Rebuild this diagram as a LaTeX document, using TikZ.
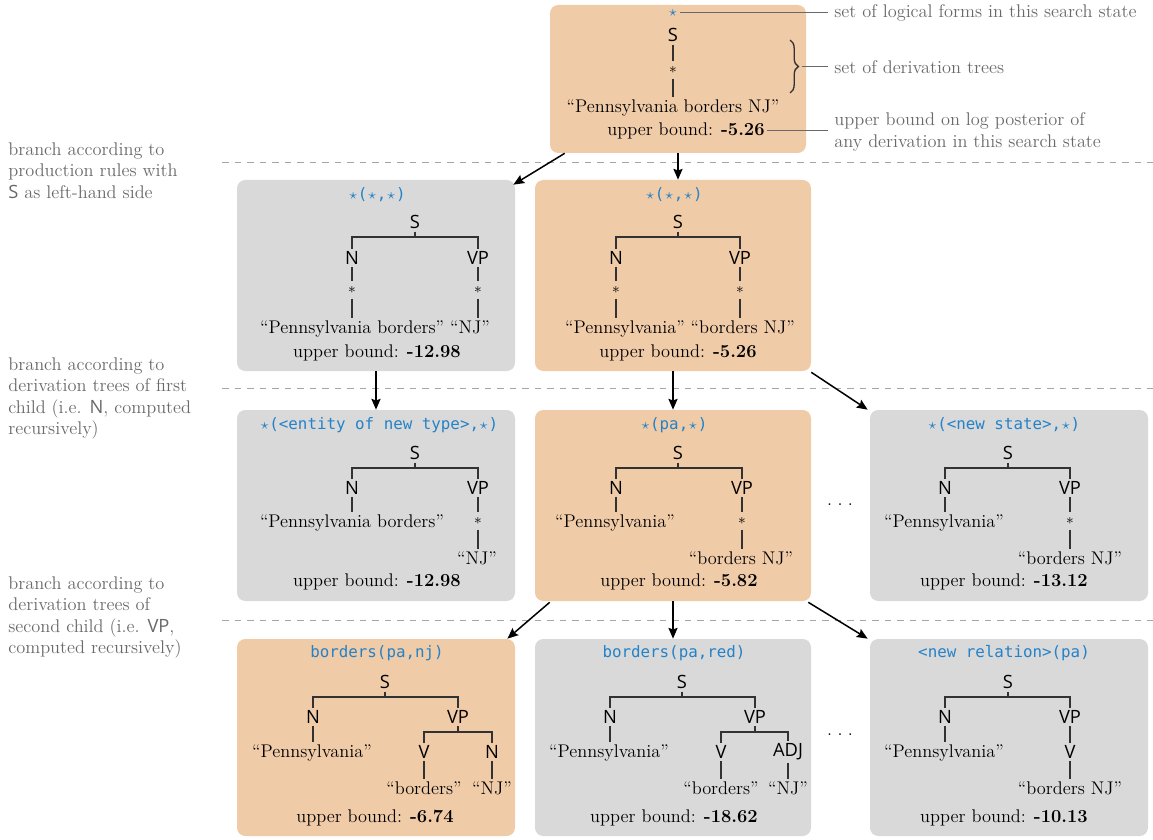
\documentclass[tikz,border=0pt]{standalone}
\usepackage{fontspec}
\newfontfamily\catf{Open Sans}
\setmonofont{DejaVu Sans Mono}
\usetikzlibrary{fit,calc,arrows.meta,decorations.pathreplacing}
\definecolor{obg}{RGB}{240,203,168}
\definecolor{gbg}{RGB}{217,217,217}
\definecolor{lfblue}{RGB}{35,130,200}
\definecolor{treec}{RGB}{50,50,50}
\definecolor{annc}{RGB}{105,105,105}
\definecolor{dashc}{RGB}{165,165,165}
\newcommand{\st}{\makebox[0.6em]{$\star$}}
\newcommand{\astr}{{\fontsize{9.5}{9.5}\selectfont$\ast$}}
\newcommand{\cs}[1]{{\catf #1}}
\newcommand{\spdots}{.\hspace{3.2pt}.\hspace{3.2pt}.}
\begin{document}
\begin{tikzpicture}[x=0.6pt,y=-0.6pt,
  every node/.style={font=\fontsize{11}{13}\selectfont},
  obox/.style={fill=obg, rounded corners=5pt, inner sep=0pt},
  gbox/.style={fill=gbg, rounded corners=5pt, inner sep=0pt},
  cat/.style={font=\catf\fontsize{11}{13}\selectfont, inner sep=1.5pt},
  txt/.style={inner sep=1.5pt},
  ttl/.style={font=\ttfamily\fontsize{9.5}{11}\selectfont, text=lfblue, inner sep=1pt},
  ast/.style={inner sep=0pt, minimum height=10pt},
  tl/.style={draw=treec, line width=0.75pt},
  arr/.style={draw=black, line width=0.9pt, -{Stealth[length=6.5pt,width=5.5pt,inset=1pt]}},
  ann/.style={text=annc, inner sep=0pt, align=left, font=\fontsize{11}{12.9}\selectfont},
  al/.style={draw=annc, line width=0.6pt},
  sep/.style={draw=dashc, line width=0.6pt, dash pattern=on 4pt off 3.5pt}]
\useasboundingbox (0,0) rectangle (1153,840);

% separators
\coordinate (d1a) at (222,163); \coordinate (d1b) at (1153,163);
\coordinate (d2a) at (222,388); \coordinate (d2b) at (1153,388);
\coordinate (d3a) at (222,620); \coordinate (d3b) at (1153,620);
\draw[sep] (d1a) -- (d1b);
\draw[sep] (d2a) -- (d2b);
\draw[sep] (d3a) -- (d3b);

% left annotations
\node[ann, anchor=north west] (l1) at (8,142) {branch according to\\production rules with\\\cs{S} as left-hand side};
\node[ann, anchor=north west] (l2) at (8,357) {branch according to\\derivation trees of first\\child (i.e. \cs{N}, computed\\recursively)};
\node[ann, anchor=north west] (l3) at (8,576) {branch according to\\derivation trees of\\second child (i.e. \cs{VP},\\computed recursively)};

% ---------- top box
\node[obox, fit={(550,5)(806,153)}] (top) {};
\node[ttl] (t0) at (673,13) {\st};
\node[cat] (s0) at (673,35) {S};
\node[ast] (a0) at (673,70) {\astr};
\node[txt] (w0) at (673,108) {“Pennsylvania borders NJ”};
\node[txt] (u0) at (686,131) {upper bound: \textbf{-5.26}};
\draw[tl] (s0) -- (a0);
\draw[tl] (a0) -- (w0);

% right annotations
\node[ann, anchor=west] (n1) at (834,13) {set of logical forms in this search state};
\node[ann, anchor=west] (n2) at (834,67) {set of derivation trees};
\node[ann, anchor=west] (n3) at (834,132) {upper bound on log posterior of\\any derivation in this search state};
\draw[al] (t0.east) -- ($(n1.west)+(-6,0)$);
\coordinate (bA) at (790,40); \coordinate (bB) at (790,93);
\draw[treec, line width=0.8pt, decorate, decoration={brace, amplitude=5pt}] (bA) -- (bB);
\coordinate (btip) at (802,67);
\draw[al] (btip) -- ($(n2.west)+(-6,0)$);
\draw[al] (u0.east) -- ($(u0.east -| n3.west)+(-6,0)$);

% ---------- row 2 left (gray)
\node[gbox, fit={(237,180)(515,371)}] (b2a) {};
\node[ttl] (t2a) at (377,195) {\st(\st,\st)};
\node[cat] (S2a) at (415,222) {S};
\coordinate (k2a) at (415,237);
\node[cat] (N2a) at (352,258) {N};
\node[cat] (V2a) at (478,258) {VP};
\node[ast] (aN2a) at (352,290) {\astr};
\node[ast] (aV2a) at (478,290) {\astr};
\node[txt] (w2a) at (375,329) {“Pennsylvania borders” “NJ”};
\node[txt] (u2a) at (377,353) {upper bound: \textbf{-12.98}};
\draw[tl] (S2a.south) -- (k2a);
\draw[tl] (N2a.north) |- (k2a) -| (V2a.north);
\draw[tl] (N2a) -- (aN2a);
\draw[tl] (V2a) -- (aV2a);
\draw[tl] (aN2a.south) -- (aN2a.south |- w2a.north);
\draw[tl] (aV2a.south) -- (aV2a.south |- w2a.north);

% ---------- row 2 middle (orange)
\node[obox, fit={(535,180)(811,371)}] (b2b) {};
\node[ttl] (t2b) at (674,195) {\st(\st,\st)};
\node[cat] (S2b) at (678,222) {S};
\coordinate (k2b) at (678,237);
\node[cat] (N2b) at (616,258) {N};
\node[cat] (V2b) at (740,258) {VP};
\node[ast] (aN2b) at (616,290) {\astr};
\node[ast] (aV2b) at (740,290) {\astr};
\node[txt] (w2b) at (680,329) {“Pennsylvania” “borders NJ”};
\node[txt] (u2b) at (678,353) {upper bound: \textbf{-5.26}};
\draw[tl] (S2b.south) -- (k2b);
\draw[tl] (N2b.north) |- (k2b) -| (V2b.north);
\draw[tl] (N2b) -- (aN2b);
\draw[tl] (V2b) -- (aV2b);
\draw[tl] (aN2b.south) -- (aN2b.south |- w2b.north);
\draw[tl] (aV2b.south) -- (aV2b.south |- w2b.north);

% ---------- row 3 left (gray)
\node[gbox, fit={(237,410)(515,601)}] (b3a) {};
\node[ttl] (t3a) at (379,425) {\st(<entity of new type>,\st)};
\node[cat] (S3a) at (415,453) {S};
\coordinate (k3a) at (415,468);
\node[cat] (N3a) at (352,488) {N};
\node[cat] (V3a) at (478,488) {VP};
\node[txt] (wN3a) at (352,523) {“Pennsylvania borders”};
\node[ast] (aV3a) at (478,521) {\astr};
\node[txt] (wV3a) at (477,558) {“NJ”};
\node[txt] (u3a) at (377,582) {upper bound: \textbf{-12.98}};
\draw[tl] (S3a.south) -- (k3a);
\draw[tl] (N3a.north) |- (k3a) -| (V3a.north);
\draw[tl] (N3a.south) -- (N3a.south |- wN3a.north);
\draw[tl] (V3a) -- (aV3a);
\draw[tl] (aV3a.south) -- (aV3a.south |- wV3a.north);

% ---------- row 3 middle (orange)
\node[obox, fit={(535,410)(811,601)}] (b3b) {};
\node[ttl] (t3b) at (674,425) {\st(pa,\st)};
\node[cat] (S3b) at (678,453) {S};
\coordinate (k3b) at (678,468);
\node[cat] (N3b) at (616,488) {N};
\node[cat] (V3b) at (742,488) {VP};
\node[txt] (wN3b) at (615,523) {“Pennsylvania”};
\node[ast] (aV3b) at (742,521) {\astr};
\node[txt] (wV3b) at (741,558) {“borders NJ”};
\node[txt] (u3b) at (679,582) {upper bound: \textbf{-5.82}};
\draw[tl] (S3b.south) -- (k3b);
\draw[tl] (N3b.north) |- (k3b) -| (V3b.north);
\draw[tl] (N3b.south) -- (N3b.south |- wN3b.north);
\draw[tl] (V3b) -- (aV3b);
\draw[tl] (aV3b.south) -- (aV3b.south |- wV3b.north);

% ---------- row 3 right (gray)
\node[gbox, fit={(870,410)(1148,601)}] (b3c) {};
\node[ttl] (t3c) at (1004,425) {\st(<new state>,\st)};
\node[cat] (S3c) at (1008,453) {S};
\coordinate (k3c) at (1008,468);
\node[cat] (N3c) at (945,488) {N};
\node[cat] (V3c) at (1070,488) {VP};
\node[txt] (wN3c) at (944,523) {“Pennsylvania”};
\node[ast] (aV3c) at (1070,521) {\astr};
\node[txt] (wV3c) at (1070,558) {“borders NJ”};
\node[txt] (u3c) at (1004,582) {upper bound: \textbf{-13.12}};
\draw[tl] (S3c.south) -- (k3c);
\draw[tl] (N3c.north) |- (k3c) -| (V3c.north);
\draw[tl] (N3c.south) -- (N3c.south |- wN3c.north);
\draw[tl] (V3c) -- (aV3c);
\draw[tl] (aV3c.south) -- (aV3c.south |- wV3c.north);

\node (dots1) at (840,505) {\spdots};

% ---------- row 4 left (orange)
\node[obox, fit={(237,639)(515,836)}] (b4a) {};
\node[ttl] (t4a) at (377,653) {borders(pa,nj)};
\node[cat] (S4a) at (385,682) {S};
\coordinate (k4a) at (385,697);
\node[cat] (N4a) at (313,717) {N};
\node[cat] (V4a) at (458,717) {VP};
\node[txt] (wN4a) at (312,753) {“Pennsylvania”};
\coordinate (q4a) at (458,732);
\node[cat] (VV4a) at (424,752) {V};
\node[cat] (NN4a) at (492,752) {N};
\node[txt] (wV4a) at (424,788) {“borders”};
\node[txt] (wNN4a) at (492,788) {“NJ”};
\node[txt] (u4a) at (375,818) {upper bound: \textbf{-6.74}};
\draw[tl] (S4a.south) -- (k4a);
\draw[tl] (N4a.north) |- (k4a) -| (V4a.north);
\draw[tl] (N4a.south) -- (N4a.south |- wN4a.north);
\draw[tl] (V4a.south) -- (q4a);
\draw[tl] (VV4a.north) |- (q4a) -| (NN4a.north);
\draw[tl] (VV4a.south) -- (VV4a.south |- wV4a.north);
\draw[tl] (NN4a.south) -- (NN4a.south |- wNN4a.north);

% ---------- row 4 middle (gray)
\node[gbox, fit={(535,639)(811,836)}] (b4b) {};
\node[ttl] (t4b) at (674,653) {borders(pa,red)};
\node[cat] (S4b) at (682,682) {S};
\coordinate (k4b) at (682,697);
\node[cat] (N4b) at (610,717) {N};
\node[cat] (V4b) at (755,717) {VP};
\node[txt] (wN4b) at (609,753) {“Pennsylvania”};
\coordinate (q4b) at (755,732);
\node[cat] (VV4b) at (721,752) {V};
\node[cat] (AA4b) at (788,752) {ADJ};
\node[txt] (wV4b) at (721,788) {“borders”};
\node[txt] (wAA4b) at (788,788) {“NJ”};
\node[txt] (u4b) at (674,818) {upper bound: \textbf{-18.62}};
\draw[tl] (S4b.south) -- (k4b);
\draw[tl] (N4b.north) |- (k4b) -| (V4b.north);
\draw[tl] (N4b.south) -- (N4b.south |- wN4b.north);
\draw[tl] (V4b.south) -- (q4b);
\draw[tl] (VV4b.north) |- (q4b) -| (AA4b.north);
\draw[tl] (VV4b.south) -- (VV4b.south |- wV4b.north);
\draw[tl] (AA4b.south) -- (AA4b.south |- wAA4b.north);

% ---------- row 4 right (gray)
\node[gbox, fit={(870,639)(1148,836)}] (b4c) {};
\node[ttl] (t4c) at (1004,653) {<new relation>(pa)};
\node[cat] (S4c) at (1008,682) {S};
\coordinate (k4c) at (1008,697);
\node[cat] (N4c) at (945,717) {N};
\node[cat] (V4c) at (1070,717) {VP};
\node[txt] (wN4c) at (944,753) {“Pennsylvania”};
\node[cat] (VV4c) at (1070,752) {V};
\node[txt] (wV4c) at (1070,788) {“borders NJ”};
\node[txt] (u4c) at (1004,818) {upper bound: \textbf{-10.13}};
\draw[tl] (S4c.south) -- (k4c);
\draw[tl] (N4c.north) |- (k4c) -| (V4c.north);
\draw[tl] (N4c.south) -- (N4c.south |- wN4c.north);
\draw[tl] (V4c) -- (VV4c);
\draw[tl] (VV4c.south) -- (VV4c.south |- wV4c.north);

\node (dots2) at (840,735) {\spdots};

% ---------- arrows
\draw[arr] ($(top.south west)+(15,0)$) -- ($(b2a.north east)+(-2,5)$);
\draw[arr] (top.south) -- (top.south |- b2b.north);
\draw[arr] (b2a.south) -- (b3a.north);
\draw[arr] (b2b.south) -- (b3b.north);
\draw[arr] ($(b2b.south east)+(0,1)$) -- ($(b3c.north west)+(-2,0)$);
\draw[arr] ($(b3b.south west)+(15,1)$) -- ($(b4a.north east)+(-8,0)$);
\draw[arr] (b3b.south) -- (b4b.north);
\draw[arr] ($(b3b.south east)+(-3,1)$) -- ($(b4c.north west)+(-2,0)$);
\end{tikzpicture}
\end{document}
